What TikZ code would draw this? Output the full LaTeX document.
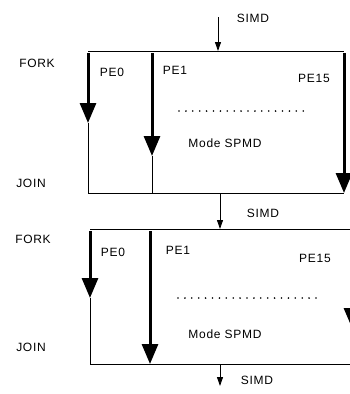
\documentclass[tikz,border=0pt]{standalone}
\usepackage{fontspec}
\setmainfont[LetterSpace=6]{Liberation Sans}
\usetikzlibrary{arrows.meta}
\begin{document}
\begin{tikzpicture}[x=1pt,y=-1pt,
  lbl/.style={inner sep=0pt,font=\fontsize{12}{14}\selectfont},
  thin/.style={line width=0.9pt},
  pe/.style={line width=3pt,-{Triangle[width=16pt,length=20pt]},shorten >=0pt},
  simd/.style={line width=0.9pt,-{Triangle[width=6pt,length=9pt]}},
  dots/.style={line width=1.8pt,line cap=round,dash pattern=on 0pt off 6.9pt}]
\useasboundingbox (0,0) rectangle (350,394);
\clip (0,0) rectangle (350,394);
% ---------- top box ----------
\coordinate (s0) at (218,17);
\coordinate (t1) at (218,51);
\coordinate (a1) at (88,51);
\coordinate (b1) at (344,51);
\coordinate (c1) at (88,193);
\coordinate (d1) at (344,193);
\coordinate (m1b) at (152,193);
\draw[thin] (a1) -- (b1);
\draw[thin] (c1) -- (d1);
\draw[simd] (s0) -- (t1);
\coordinate (p0a) at (88,53);
\coordinate (p0b) at (88,123);
\coordinate (p1a) at (152,53);
\coordinate (p1b) at (152,156);
\coordinate (p15a) at (344,53);
\coordinate (p15b) at (344,193);
\draw[pe] (p0a) -- (p0b);
\draw[thin] (p0b) -- (c1);
\draw[pe] (p1a) -- (p1b);
\draw[thin] (p1b) -- (m1b);
\draw[pe] (p15a) -- (p15b);
\node[lbl] (simd1) at (253,18) {SIMD};
\node[lbl] (fork1) at (37,63) {FORK};
\node[lbl] (join1) at (31,183) {JOIN};
\node[lbl] (pe0a) at (112,72) {PE0};
\node[lbl] (pe1a) at (175,70) {PE1};
\node[lbl] (pe15a) at (314,78) {PE15};
\coordinate (dl1) at (179,111);
\coordinate (dr1) at (310,111);
\draw[dots] (dl1) -- (dr1);
\node[lbl] (mode1) at (225,143) {Mode SPMD};
% ---------- bottom box ----------
\coordinate (s1) at (220,193);
\coordinate (t2) at (220,229);
\coordinate (a2) at (90,229);
\coordinate (b2) at (352,229);
\coordinate (c2) at (90,364);
\coordinate (d2) at (352,364);
\draw[thin] (a2) -- (b2);
\draw[thin] (c2) -- (d2);
\draw[simd] (s1) -- (t2);
\coordinate (q0a) at (90,231);
\coordinate (q0b) at (90,298);
\coordinate (q1a) at (150,231);
\coordinate (q1b) at (150,364);
\coordinate (q15a) at (352,231);
\coordinate (q15b) at (352,328);
\draw[pe] (q0a) -- (q0b);
\draw[thin] (q0b) -- (c2);
\draw[pe] (q1a) -- (q1b);
\draw[pe] (q15a) -- (q15b);
\node[lbl] (simd2) at (263,213) {SIMD};
\node[lbl] (fork2) at (33,239) {FORK};
\node[lbl] (join2) at (31,347) {JOIN};
\node[lbl] (pe0b) at (113,252) {PE0};
\node[lbl] (pe1b) at (178,250) {PE1};
\node[lbl] (pe15b) at (315,258) {PE15};
\coordinate (dl2) at (178,298);
\coordinate (dr2) at (316,298);
\draw[dots] (dl2) -- (dr2);
\node[lbl] (mode2) at (225,334) {Mode SPMD};
% ---------- bottom SIMD ----------
\coordinate (s2) at (220,364);
\coordinate (t3) at (220,386);
\draw[simd] (s2) -- (t3);
\node[lbl] (simd3) at (257,380) {SIMD};
\end{tikzpicture}
\end{document}
